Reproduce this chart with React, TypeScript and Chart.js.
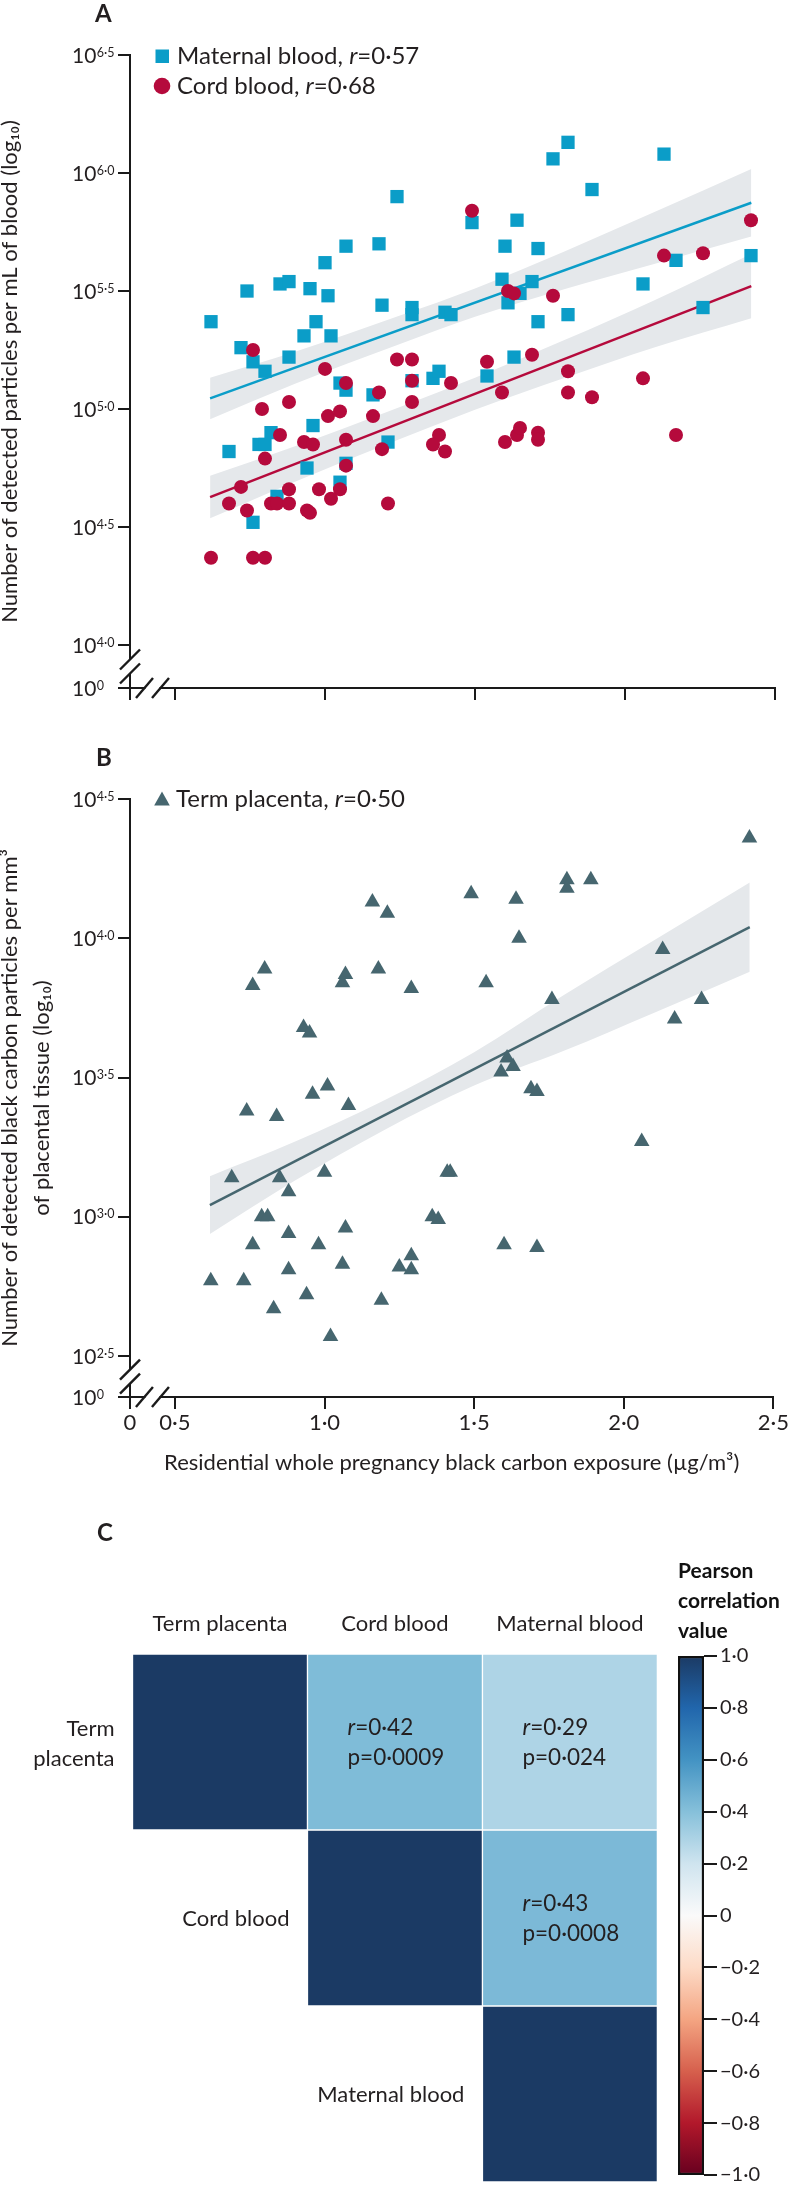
import React, { useEffect, useRef } from "react";
import { Chart, registerables } from "chart.js";

Chart.register(...registerables);

const FONT = "Lato, 'Liberation Sans', 'DejaVu Sans', sans-serif";
const INK = "#231f20";
const AXIS = "#1a1a1a";
const CYAN = "#0b9dc8";
const CRIMSON = "#b50a3c";
const SLATE = "#46666f";
const BAND = "#e5e8eb";

// ---------- Panel A: maternal blood (squares) ----------
const maternalX = [0.62, 0.74, 0.72, 0.76, 0.80, 0.85, 0.88, 0.88, 0.93, 0.95, 0.97, 1.00, 1.01, 1.02, 1.07, 1.18, 1.19, 1.24, 1.29, 1.29, 1.36, 1.38, 1.40, 1.42, 1.49, 1.54, 1.59, 1.60, 1.61, 1.63, 1.64, 1.65, 1.69, 1.71, 1.71, 1.76, 1.81, 1.81, 1.89, 2.06, 2.13, 2.17, 2.26, 2.42, 1.05, 1.07, 1.16, 1.29, 0.68, 0.78, 0.80, 0.82, 0.96, 0.94, 1.07, 1.05, 1.21, 0.84, 0.76];
const maternalLog = [5.37, 5.50, 5.26, 5.20, 5.16, 5.53, 5.54, 5.22, 5.31, 5.51, 5.37, 5.62, 5.48, 5.31, 5.69, 5.70, 5.44, 5.90, 5.43, 5.40, 5.13, 5.16, 5.41, 5.40, 5.79, 5.14, 5.55, 5.69, 5.45, 5.22, 5.80, 5.49, 5.54, 5.68, 5.37, 6.06, 5.40, 6.13, 5.93, 5.53, 6.08, 5.63, 5.43, 5.65, 5.11, 5.08, 5.06, 5.12, 4.82, 4.85, 4.85, 4.90, 4.93, 4.75, 4.77, 4.69, 4.86, 4.63, 4.52];

// ---------- Panel A: cord blood (circles) ----------
const cordX = [1.49, 2.42, 2.13, 2.26, 1.61, 1.63, 1.76, 0.76, 1.00, 1.24, 1.29, 1.54, 1.69, 1.29, 1.07, 1.18, 1.42, 1.81, 2.06, 1.59, 1.81, 1.89, 0.88, 0.79, 1.29, 1.01, 1.05, 1.16, 0.85, 0.93, 0.96, 1.07, 0.80, 1.19, 1.38, 1.36, 1.40, 1.60, 1.64, 1.65, 1.71, 1.71, 2.17, 1.07, 0.72, 0.88, 0.98, 1.05, 1.02, 0.68, 0.74, 0.82, 0.84, 0.88, 0.94, 0.95, 1.21, 0.62, 0.76, 0.80];
const cordLog = [5.84, 5.80, 5.65, 5.66, 5.50, 5.49, 5.48, 5.25, 5.17, 5.21, 5.21, 5.20, 5.23, 5.12, 5.11, 5.07, 5.11, 5.16, 5.13, 5.07, 5.07, 5.05, 5.03, 5.00, 5.03, 4.97, 4.99, 4.97, 4.89, 4.86, 4.85, 4.87, 4.79, 4.83, 4.89, 4.85, 4.82, 4.86, 4.89, 4.92, 4.90, 4.87, 4.89, 4.76, 4.67, 4.66, 4.66, 4.66, 4.62, 4.60, 4.57, 4.60, 4.60, 4.60, 4.57, 4.56, 4.60, 4.37, 4.37, 4.37];

// ---------- Panel B: term placenta (triangles) ----------
const placentaX = [2.42, 1.81, 1.81, 1.89, 1.49, 1.64, 1.16, 1.21, 1.65, 2.13, 0.80, 0.76, 1.07, 1.06, 1.18, 1.29, 1.54, 1.76, 2.26, 2.17, 0.93, 0.95, 1.61, 1.63, 1.59, 1.69, 1.71, 1.01, 0.96, 1.08, 0.74, 0.84, 2.06, 0.69, 0.85, 1.00, 1.41, 1.42, 0.88, 0.79, 0.81, 1.36, 1.38, 0.88, 1.07, 0.76, 0.98, 1.60, 1.71, 1.29, 1.06, 1.25, 1.29, 0.88, 0.62, 0.73, 0.94, 1.19, 0.83, 1.02];
const placentaLog = [4.36, 4.21, 4.18, 4.21, 4.16, 4.14, 4.13, 4.09, 4.00, 3.96, 3.89, 3.83, 3.87, 3.84, 3.89, 3.82, 3.84, 3.78, 3.78, 3.71, 3.68, 3.66, 3.57, 3.54, 3.52, 3.46, 3.45, 3.47, 3.44, 3.40, 3.38, 3.36, 3.27, 3.14, 3.14, 3.16, 3.16, 3.16, 3.09, 3.00, 3.00, 3.00, 2.99, 2.94, 2.96, 2.90, 2.90, 2.90, 2.89, 2.86, 2.83, 2.82, 2.81, 2.81, 2.77, 2.77, 2.72, 2.70, 2.67, 2.57];

// ---------- regression lines and confidence bands ----------
const fitX = [0.617, 2.421];
const maternalFit = [5.045, 5.874];
const cordFit = [4.627, 5.521];
const placentaFit = [3.042, 4.040];

const bandXA = [0.617, 0.9, 1.25, 1.5, 1.8, 2.1, 2.421];
const maternalUpper = [5.133, 5.243, 5.396, 5.511, 5.669, 5.836, 6.017];
const maternalLower = [4.957, 5.107, 5.276, 5.391, 5.509, 5.616, 5.731];
const cordUpper = [4.717, 4.842, 5.009, 5.133, 5.293, 5.462, 5.657];
const cordLower = [4.537, 4.692, 4.873, 4.997, 5.133, 5.262, 5.385];
const bandXB = [0.617, 0.9, 1.2, 1.5, 1.8, 2.1, 2.421];
const placentaUpper = [3.146, 3.269, 3.418, 3.591, 3.796, 3.992, 4.200];
const placentaLower = [2.938, 3.129, 3.312, 3.471, 3.596, 3.732, 3.880];

// ---------- axes ----------
const xTickValues = [0.35, 0.5, 1.0, 1.5, 2.0, 2.5];
const xTickLabels = ["0", "0·5", "1·0", "1·5", "2·0", "2·5"];
const yTickValuesA = [3.818, 4.0, 4.5, 5.0, 5.5, 6.0, 6.5];
const yTickExpA = ["0", "4·0", "4·5", "5·0", "5·5", "6·0", "6·5"];
const yTickValuesB = [2.353, 2.5, 3.0, 3.5, 4.0, 4.5];
const yTickExpB = ["0", "2·5", "3·0", "3·5", "4·0", "4·5"];

const legendLabelsA = ["Maternal blood", "Cord blood"];
const legendRA = ["0·57", "0·68"];
const legendLabelsB = ["Term placenta"];
const legendRB = ["0·50"];

// ---------- Panel C ----------
const matrixLabels = ["Term placenta", "Cord blood", "Maternal blood"];
const corrRowTermPlacenta = [1, 0.42, 0.29];
const corrRowCordBlood = [null, 1, 0.43];
const corrRowMaternalBlood = [null, null, 1];
const pRowTermPlacenta = [null, "0·0009", "0·024"];
const pRowCordBlood = [null, null, "0·0008"];
const pRowMaternalBlood = [null, null, null];
const corrRows = [corrRowTermPlacenta, corrRowCordBlood, corrRowMaternalBlood];
const pRows = [pRowTermPlacenta, pRowCordBlood, pRowMaternalBlood];

const cbarStops = [-1, -0.8, -0.6, -0.4, -0.2, 0, 0.2, 0.4, 0.6, 0.8, 1];
const cbarColors = ["#67001f", "#b2182b", "#d6604d", "#f4a582", "#fddbc7", "#fafafa", "#cfe4ef", "#86c0da", "#4393c3", "#2166ac", "#1b3a64"];
const cbarTickLabels = ["−1·0", "−0·8", "−0·6", "−0·4", "−0·2", "0", "0·2", "0·4", "0·6", "0·8", "1·0"];

// ---------- helpers ----------
const pts = (xs: number[], ys: number[]) => xs.map((x, i) => ({ x, y: ys[i] }));
const fmt = (v: number) => v.toFixed(2).replace(".", "·");

function hexToRgb(h: string) {
  const n = parseInt(h.slice(1), 16);
  return [(n >> 16) & 255, (n >> 8) & 255, n & 255];
}
function corrColor(v: number) {
  for (let i = 0; i < cbarStops.length - 1; i++) {
    if (v >= cbarStops[i] && v <= cbarStops[i + 1]) {
      const t = (v - cbarStops[i]) / (cbarStops[i + 1] - cbarStops[i]);
      const a = hexToRgb(cbarColors[i]);
      const b = hexToRgb(cbarColors[i + 1]);
      const c = a.map((av, k) => Math.round(av + (b[k] - av) * t));
      return `rgb(${c[0]},${c[1]},${c[2]})`;
    }
  }
  return cbarColors[cbarColors.length - 1];
}

function drawRich(ctx: CanvasRenderingContext2D, x: number, baseline: number, parts: [string, boolean][], size: number) {
  ctx.textAlign = "left";
  ctx.textBaseline = "alphabetic";
  ctx.fillStyle = INK;
  let cx = x;
  for (const [t, it] of parts) {
    ctx.font = `${it ? "italic " : ""}${size}px ${FONT}`;
    ctx.fillText(t, cx, baseline);
    cx += ctx.measureText(t).width;
  }
}

function drawPow(ctx: CanvasRenderingContext2D, x: number, yc: number, exp: string) {
  ctx.textAlign = "left";
  ctx.textBaseline = "alphabetic";
  ctx.fillStyle = INK;
  ctx.font = `21px ${FONT}`;
  ctx.fillText("10", x, yc + 7.7);
  const w = ctx.measureText("10").width;
  ctx.font = `12.5px ${FONT}`;
  ctx.fillText(exp, x + w + 0.5, yc + 1.7);
}

function drawBreaks(chart: any, firstRealY: number) {
  const { ctx, chartArea: a, scales } = chart;
  const ax = a.left;
  const ay = a.bottom;
  ctx.save();
  const yc = (scales.y.getPixelForValue(firstRealY) + ay) / 2;
  ctx.fillStyle = "#ffffff";
  ctx.beginPath();
  ctx.moveTo(ax - 3, yc - 7 + 3);
  ctx.lineTo(ax + 3, yc - 7 - 3);
  ctx.lineTo(ax + 3, yc + 7 - 3);
  ctx.lineTo(ax - 3, yc + 7 + 3);
  ctx.closePath();
  ctx.fill();
  ctx.strokeStyle = AXIS;
  ctx.lineWidth = 2.4;
  for (const d of [-7, 7]) {
    ctx.beginPath();
    ctx.moveTo(ax - 10, yc + d + 10);
    ctx.lineTo(ax + 10, yc + d - 10);
    ctx.stroke();
  }
  const xc = (ax + scales.x.getPixelForValue(xTickValues[1])) / 2;
  ctx.fillStyle = "#ffffff";
  ctx.fillRect(xc - 7, ay - 3, 14, 6);
  for (const d of [-8, 8]) {
    ctx.beginPath();
    ctx.moveTo(xc + d - 8.5, ay + 10);
    ctx.lineTo(xc + d + 8.5, ay - 10);
    ctx.stroke();
  }
  ctx.restore();
}

const LEGEND_SIZE = 24;

const panelAPlugin = {
  id: "panelA",
  afterDraw(chart: any) {
    const ctx = chart.ctx as CanvasRenderingContext2D;
    ctx.save();
    ctx.fillStyle = INK;
    ctx.font = `bold 24px ${FONT}`;
    ctx.textAlign = "left";
    ctx.textBaseline = "alphabetic";
    ctx.fillText("A", 95, 22);
    yTickValuesA.forEach((v, i) => drawPow(ctx, 72, chart.scales.y.getPixelForValue(v), yTickExpA[i]));
    drawBreaks(chart, yTickValuesA[1]);
    ctx.fillStyle = CYAN;
    ctx.fillRect(155.5, 49.5, 13.5, 13.5);
    drawRich(ctx, 177, 64, [[legendLabelsA[0] + ", ", false], ["r", true], ["=" + legendRA[0], false]], LEGEND_SIZE);
    ctx.fillStyle = CRIMSON;
    ctx.beginPath();
    ctx.arc(162, 86, 8.3, 0, Math.PI * 2);
    ctx.fill();
    drawRich(ctx, 177, 94, [[legendLabelsA[1] + ", ", false], ["r", true], ["=" + legendRA[1], false]], LEGEND_SIZE);
    ctx.restore();
  },
};

const panelBPlugin = {
  id: "panelB",
  afterDraw(chart: any) {
    const ctx = chart.ctx as CanvasRenderingContext2D;
    ctx.save();
    ctx.fillStyle = INK;
    ctx.font = `bold 24px ${FONT}`;
    ctx.textAlign = "left";
    ctx.textBaseline = "alphabetic";
    ctx.fillText("B", 96, 46);
    yTickValuesB.forEach((v, i) => drawPow(ctx, 72, chart.scales.y.getPixelForValue(v), yTickExpB[i]));
    drawBreaks(chart, yTickValuesB[1]);
    ctx.fillStyle = SLATE;
    ctx.beginPath();
    ctx.moveTo(162, 71.5);
    ctx.lineTo(169.8, 85.5);
    ctx.lineTo(154.2, 85.5);
    ctx.closePath();
    ctx.fill();
    drawRich(ctx, 176, 87, [[legendLabelsB[0] + ", ", false], ["r", true], ["=" + legendRB[0], false]], LEGEND_SIZE);
    ctx.restore();
  },
};

const heatPlugin = {
  id: "heat",
  afterDraw(chart: any) {
    const { ctx, chartArea: a, scales } = chart;
    const xs = scales.x;
    const ys = scales.y;
    const colW = a.width / 3;
    ctx.save();
    ctx.fillStyle = INK;
    ctx.font = `bold 24px ${FONT}`;
    ctx.textAlign = "left";
    ctx.textBaseline = "alphabetic";
    ctx.fillText("C", 97, 51);
    matrixLabels.forEach((label, i) => {
      const left = xs.getPixelForValue(i) - colW / 2;
      const cy = ys.getPixelForValue(i + 0.5);
      const right = left - 18;
      ctx.textAlign = "right";
      ctx.font = `22px ${FONT}`;
      ctx.fillStyle = INK;
      if (ctx.measureText(label).width > right - 8) {
        const words = label.split(" ");
        ctx.fillText(words[0], right, cy - 6.5);
        ctx.fillText(words.slice(1).join(" "), right, cy + 23.5);
      } else {
        ctx.fillText(label, right, cy + 8);
      }
    });
    corrRows.forEach((row, i) =>
      row.forEach((v, j) => {
        if (v == null || i === j) return;
        const left = xs.getPixelForValue(j) - colW / 2;
        const cy = ys.getPixelForValue(i + 0.5);
        drawRich(ctx, left + 40, cy - 7, [["r", true], ["=" + fmt(v), false]], 22.5);
        drawRich(ctx, left + 40, cy + 22.5, [["p=" + pRows[i][j], false]], 22.5);
      })
    );
    ctx.restore();
  },
};

const axisGrid = { display: true, drawOnChartArea: false, drawTicks: true, tickLength: 12, color: AXIS, lineWidth: 2 };
const axisBorder = { display: true, color: AXIS, width: 2 };

function makeA(canvas: HTMLCanvasElement) {
  return new Chart(canvas, {
    type: "scatter",
    data: {
      datasets: [
        { type: "scatter", data: pts(cordX, cordLog), pointStyle: "circle", pointRadius: 7, backgroundColor: CRIMSON, borderColor: CRIMSON, borderWidth: 0, order: 0 },
        { type: "scatter", data: pts(maternalX, maternalLog), pointStyle: "rect", pointRadius: 9.4, backgroundColor: CYAN, borderColor: CYAN, borderWidth: 0, order: 1 },
        { type: "line", data: pts(fitX, maternalFit), borderColor: CYAN, borderWidth: 2.5, pointRadius: 0, fill: false, order: 2 },
        { type: "line", data: pts(fitX, cordFit), borderColor: CRIMSON, borderWidth: 2.5, pointRadius: 0, fill: false, order: 2 },
        { type: "line", data: pts(bandXA, maternalUpper), borderColor: "rgba(0,0,0,0)", borderWidth: 0, pointRadius: 0, fill: "+1", backgroundColor: BAND, cubicInterpolationMode: "monotone", order: 3 },
        { type: "line", data: pts(bandXA, maternalLower), borderColor: "rgba(0,0,0,0)", borderWidth: 0, pointRadius: 0, fill: false, cubicInterpolationMode: "monotone", order: 3 },
        { type: "line", data: pts(bandXA, cordUpper), borderColor: "rgba(0,0,0,0)", borderWidth: 0, pointRadius: 0, fill: "+1", backgroundColor: BAND, cubicInterpolationMode: "monotone", order: 3 },
        { type: "line", data: pts(bandXA, cordLower), borderColor: "rgba(0,0,0,0)", borderWidth: 0, pointRadius: 0, fill: false, cubicInterpolationMode: "monotone", order: 3 },
      ] as any,
    },
    options: {
      animation: false,
      responsive: false,
      devicePixelRatio: 1,
      events: [],
      layout: { padding: { left: 0, right: 15, top: 55, bottom: 0 } },
      plugins: { legend: { display: false }, tooltip: { enabled: false } },
      scales: {
        x: {
          type: "linear",
          min: xTickValues[0],
          max: 2.5,
          afterBuildTicks: (s: any) => { s.ticks = xTickValues.map((v) => ({ value: v })); },
          afterFit: (s: any) => { s.height = 32; },
          grid: axisGrid,
          border: axisBorder,
          ticks: { display: false },
        },
        y: {
          type: "linear",
          min: yTickValuesA[0],
          max: 6.5,
          afterBuildTicks: (s: any) => { s.ticks = yTickValuesA.map((v) => ({ value: v })); },
          afterFit: (s: any) => { s.width = 130; },
          grid: axisGrid,
          border: axisBorder,
          ticks: { display: false },
          title: {
            display: true,
            text: "Number of detected particles per mL of blood (log₁₀)",
            color: INK,
            font: { family: FONT, size: 22 },
            padding: { top: -3, bottom: 0 },
          },
        },
      },
    } as any,
    plugins: [panelAPlugin],
  });
}

function makeB(canvas: HTMLCanvasElement) {
  return new Chart(canvas, {
    type: "scatter",
    data: {
      datasets: [
        { type: "scatter", data: pts(placentaX, placentaLog), pointStyle: "triangle", pointRadius: 9, backgroundColor: SLATE, borderColor: SLATE, borderWidth: 0, order: 0 },
        { type: "line", data: pts(fitX, placentaFit), borderColor: SLATE, borderWidth: 2.5, pointRadius: 0, fill: false, order: 2 },
        { type: "line", data: pts(bandXB, placentaUpper), borderColor: "rgba(0,0,0,0)", borderWidth: 0, pointRadius: 0, fill: "+1", backgroundColor: BAND, cubicInterpolationMode: "monotone", order: 3 },
        { type: "line", data: pts(bandXB, placentaLower), borderColor: "rgba(0,0,0,0)", borderWidth: 0, pointRadius: 0, fill: false, cubicInterpolationMode: "monotone", order: 3 },
      ] as any,
    },
    options: {
      animation: false,
      responsive: false,
      devicePixelRatio: 1,
      events: [],
      layout: { padding: { left: 0, right: 15, top: 79, bottom: 14 } },
      plugins: { legend: { display: false }, tooltip: { enabled: false } },
      scales: {
        x: {
          type: "linear",
          min: xTickValues[0],
          max: 2.5,
          afterBuildTicks: (s: any) => { s.ticks = xTickValues.map((v) => ({ value: v })); },
          afterFit: (s: any) => { s.height = 79; },
          grid: axisGrid,
          border: axisBorder,
          ticks: {
            display: true,
            color: INK,
            font: { family: FONT, size: 22 },
            padding: 1,
            maxRotation: 0,
            autoSkip: false,
            callback: (_v: any, i: number) => xTickLabels[i],
          },
          title: {
            display: true,
            text: "Residential whole pregnancy black carbon exposure (µg/m³)",
            color: INK,
            font: { family: FONT, size: 22 },
            padding: { top: 0, bottom: 0 },
          },
        },
        y: {
          type: "linear",
          min: yTickValuesB[0],
          max: 4.5,
          afterBuildTicks: (s: any) => { s.ticks = yTickValuesB.map((v) => ({ value: v })); },
          afterFit: (s: any) => { s.width = 130; },
          grid: axisGrid,
          border: axisBorder,
          ticks: { display: false },
          title: {
            display: true,
            text: ["Number of detected black carbon particles per mm³", "of placental tissue (log₁₀)"],
            color: INK,
            font: { family: FONT, size: 22, lineHeight: 1.45 },
            padding: { top: -6, bottom: 0 },
          },
        },
      },
    } as any,
    plugins: [panelBPlugin],
  });
}

function makeHeat(canvas: HTMLCanvasElement) {
  return new Chart(canvas, {
    type: "bar",
    data: {
      labels: matrixLabels,
      datasets: corrRows.map((row, i) => ({
        data: row.map((v) => (v == null ? null : [i, i + 1])),
        backgroundColor: row.map((v) => (v == null ? "rgba(0,0,0,0)" : corrColor(v))),
        borderColor: "#ffffff",
        borderWidth: 1,
        borderSkipped: false,
        barPercentage: 1,
        categoryPercentage: 1,
        grouped: false,
      })) as any,
    },
    options: {
      animation: false,
      responsive: false,
      devicePixelRatio: 1,
      events: [],
      layout: { padding: { left: 132.5, right: 132.6, top: 124, bottom: 8 } },
      plugins: { legend: { display: false }, tooltip: { enabled: false } },
      scales: {
        x: {
          type: "category",
          position: "top",
          offset: true,
          grid: { display: false },
          border: { display: false },
          afterFit: (s: any) => { s.height = 40; },
          ticks: { color: INK, font: { family: FONT, size: 22 }, padding: 9, maxRotation: 0, autoSkip: false },
        },
        y: { type: "linear", min: 0, max: 3, reverse: true, display: false },
      },
    } as any,
    plugins: [heatPlugin],
  });
}

function makeColorbar(canvas: HTMLCanvasElement) {
  return new Chart(canvas, {
    type: "bar",
    data: {
      labels: [""],
      datasets: [
        {
          data: [[cbarStops[0], cbarStops[cbarStops.length - 1]]],
          backgroundColor: (c: any) => {
            const chart = c.chart;
            if (!chart.chartArea) return cbarColors[5];
            const ys = chart.scales.y;
            const g = chart.ctx.createLinearGradient(0, ys.getPixelForValue(-1), 0, ys.getPixelForValue(1));
            cbarStops.forEach((s, i) => g.addColorStop((s + 1) / 2, cbarColors[i]));
            return g;
          },
          borderColor: "#111111",
          borderWidth: 2.5,
          borderSkipped: false,
          barPercentage: 1,
          categoryPercentage: 1,
        },
      ] as any,
    },
    options: {
      animation: false,
      responsive: false,
      devicePixelRatio: 1,
      events: [],
      layout: { padding: { left: 38, right: 0, top: 16, bottom: 8 } },
      plugins: {
        legend: { display: false },
        tooltip: { enabled: false },
        title: {
          display: true,
          text: ["Pearson", "correlation", "value"],
          align: "start",
          color: "#111111",
          font: { family: FONT, size: 21, weight: "bold", lineHeight: 30 / 21 },
          padding: { top: 0, bottom: 10 },
        },
      },
      scales: {
        x: { display: false },
        y: {
          position: "right",
          min: -1,
          max: 1,
          afterBuildTicks: (s: any) => { s.ticks = cbarStops.map((v) => ({ value: v })); },
          afterFit: (s: any) => { s.width = 86; },
          grid: { display: true, drawOnChartArea: false, drawTicks: true, tickLength: 13, color: AXIS, lineWidth: 2 },
          border: { display: false },
          ticks: { color: INK, font: { family: FONT, size: 20 }, padding: 3, callback: (_v: any, i: number) => cbarTickLabels[i] },
        },
      },
    } as any,
  });
}

export default function App() {
  const aRef = useRef<HTMLCanvasElement>(null);
  const bRef = useRef<HTMLCanvasElement>(null);
  const cRef = useRef<HTMLCanvasElement>(null);
  const dRef = useRef<HTMLCanvasElement>(null);

  useEffect(() => {
    Chart.defaults.color = INK;
    Chart.defaults.font.family = FONT;
    const charts = [
      makeA(aRef.current!),
      makeB(bRef.current!),
      makeHeat(cRef.current!),
      makeColorbar(dRef.current!),
    ];
    return () => charts.forEach((c) => c.destroy());
  }, []);

  const abs = (left: number, top: number, w: number, h: number): React.CSSProperties => ({
    position: "absolute",
    left,
    top,
    width: w,
    height: h,
  });

  return (
    <div style={{ position: "absolute", left: 0, top: 0, width: 790, height: 2190, background: "#ffffff", overflow: "hidden" }}>
      <canvas ref={aRef} width={790} height={720} style={abs(0, 0, 790, 720)} />
      <canvas ref={bRef} width={790} height={770} style={abs(0, 720, 790, 770)} />
      <canvas ref={cRef} width={790} height={700} style={abs(0, 1490, 790, 700)} />
      <canvas ref={dRef} width={150} height={650} style={abs(640, 1540, 150, 650)} />
    </div>
  );
}
